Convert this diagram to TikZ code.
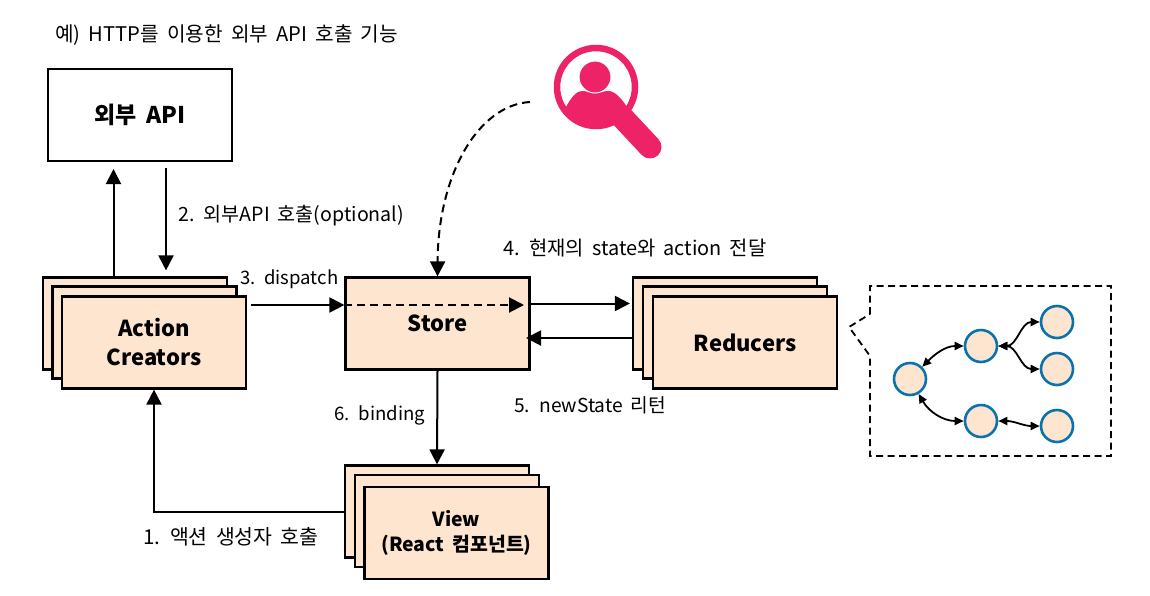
\documentclass[tikz,border=0pt]{standalone}
\usepackage{fontspec}
\setmainfont[WordSpace=1.8]{Noto Sans CJK KR}
\usetikzlibrary{arrows.meta}
\definecolor{boxfill}{HTML}{FEE5D0}
\definecolor{ringblue}{HTML}{0A73AE}
\definecolor{lenspink}{HTML}{EE2266}

\begin{document}
\begin{tikzpicture}[x=1pt,y=-1pt]
		\tikzstyle{boxstyle}=[draw=black,line width=2.2pt,fill=boxfill,minimum width=184pt,minimum height=92pt,inner sep=0pt,align=center,font=\fontsize{22}{29}\selectfont\bfseries]
		\tikzstyle{labelstyle}=[inner sep=0pt,anchor=west,font=\fontsize{19.2}{22}\selectfont]
		\tikzstyle{post}=[draw=black,line width=2pt,-{Triangle[length=15pt,width=15pt]}]
		\tikzstyle{smallpost}=[draw=black,line width=1.8pt,{Triangle[length=9pt,width=8pt]}-{Triangle[length=9pt,width=8pt]}]
		\tikzstyle{statering}=[circle,draw=ringblue,line width=2.6pt,fill=boxfill,minimum size=32pt,inner sep=0pt]
		\useasboundingbox (0,0) rectangle (1150,595);

		% external api
		\node[boxstyle,fill=white,font=\fontsize{23}{29}\selectfont\bfseries] (api) at (140,115) {외부 API};
		\node[labelstyle,font=\fontsize{20.2}{22}\selectfont] (apiNote) at (55,35) {예) HTTP를 이용한 외부 API 호출 기능};

		% action creators
		\node[boxstyle] (actionBack) at (135,323.5) {};
		\node[boxstyle] (actionMid) at (144.5,332.5) {};
		\node[boxstyle] (actionFront) at (154,342.5) {Action\\Creators};

		% store
		\node[boxstyle] (store) at (437.5,323.5) {Store};

		% reducers
		\node[boxstyle] (reducerBack) at (725,323.5) {};
		\node[boxstyle] (reducerMid) at (735,332.5) {};
		\node[boxstyle] (reducerFront) at (745,342.5) {Reducers};

		% view
		\node[boxstyle] (viewBack) at (437,511.5) {};
		\node[boxstyle] (viewMid) at (447,521) {};
		\node[boxstyle,font=\fontsize{19.4}{25}\selectfont\bfseries] (viewFront) at (456.5,533) {View\\(React 컴포넌트)};

		% free ends
		\coordinate (apiUp) at (113.5,169);
		\coordinate (apiDown) at (166,168);
		\coordinate (dispatchStart) at (251,305);
		\coordinate (scanEnd) at (524,305);
		\coordinate (passStart) at (530,303.5);
		\coordinate (backEnd) at (526,338);
		\coordinate (lensStart) at (530,102);

		\draw[post] (actionBack.north -| apiUp) -- (apiUp);
		\draw[post,shorten >=6pt] (apiDown) -- (actionBack.north -| apiDown);
		\draw[post] (dispatchStart) -- (store.west |- dispatchStart);
		\draw[post,dashed,dash pattern=on 8pt off 5pt] (store.west |- scanEnd) -- (scanEnd);
		\draw[post,shorten >=2pt] (passStart) -- (reducerBack.west |- passStart);
		\draw[post] (reducerBack.west |- backEnd) -- (backEnd);
		\draw[post] (store.south) -- (viewBack.north);
		\draw[post] (viewBack.west) -| (actionFront.south);
		\draw[post,dashed,dash pattern=on 8pt off 5pt] (lensStart) .. controls (478,105) and (438,175) .. (store.north);

		\node[labelstyle,font=\fontsize{19.6}{22}\selectfont] (apiCall) at (178,216) {2. 외부API 호출(optional)};
		\node[labelstyle,font=\fontsize{18.5}{22}\selectfont] (dispatch) at (240,279) {3. dispatch};
		\node[labelstyle,font=\fontsize{19.9}{22}\selectfont] (passState) at (503,248) {4. 현재의 state와 action 전달};
		\node[labelstyle] (newState) at (514,405) {5. newState 리턴};
		\node[labelstyle,font=\fontsize{18.6}{22}\selectfont] (binding) at (334,415) {6. binding};
		\node[labelstyle,font=\fontsize{20.5}{22}\selectfont] (actionCall) at (143,537) {1. 액션 생성자 호출};

		% callout
		\draw[black,line width=1.8pt,dash pattern=on 7pt off 4.5pt] (870,314) -- (870,286) -- (1111,286) -- (1111,456) -- (870,456) -- (870,356) -- (849,327) -- cycle;

		% state tree
		\node[statering] (rootState) at (910,379) {};
		\node[statering] (upState) at (981,346) {};
		\node[statering] (downState) at (981,421) {};
		\node[statering] (leafA) at (1057,322) {};
		\node[statering] (leafB) at (1057,369) {};
		\node[statering] (leafC) at (1057,426) {};
		\draw[smallpost] (rootState) to[out=45,in=180] (upState.west);
		\draw[smallpost] (rootState) to[out=-60,in=180] (downState.west);
		\draw[smallpost] (upState.east) to[out=0,in=180] (leafA.west);
		\draw[smallpost] (upState.east) to[out=0,in=180] (leafB.west);
		\draw[smallpost] (downState.east) to[out=0,in=180] (leafC.west);

		% magnifier
		\draw[lenspink,line width=23pt,line cap=round] (622,117) -- (650,147);
		\begin{scope}
			\clip (596,87) circle (39);
			\fill[lenspink] (565,109) .. controls (572,95) and (578,90) .. (584,91) .. controls (590,92.5) and (600,92.5) .. (607,91) .. controls (614,90) and (622,98) .. (630,112) -- (640,140) -- (555,140) -- cycle;
		\end{scope}
		\node[circle,draw=lenspink,line width=6.5pt,minimum size=78pt,inner sep=0pt] (lens) at (596,87) {};
		\node[circle,draw=white,line width=1pt,fill=lenspink,minimum size=32pt,inner sep=0pt] (lensHead) at (595,77) {};
	\end{tikzpicture}
\end{document}
